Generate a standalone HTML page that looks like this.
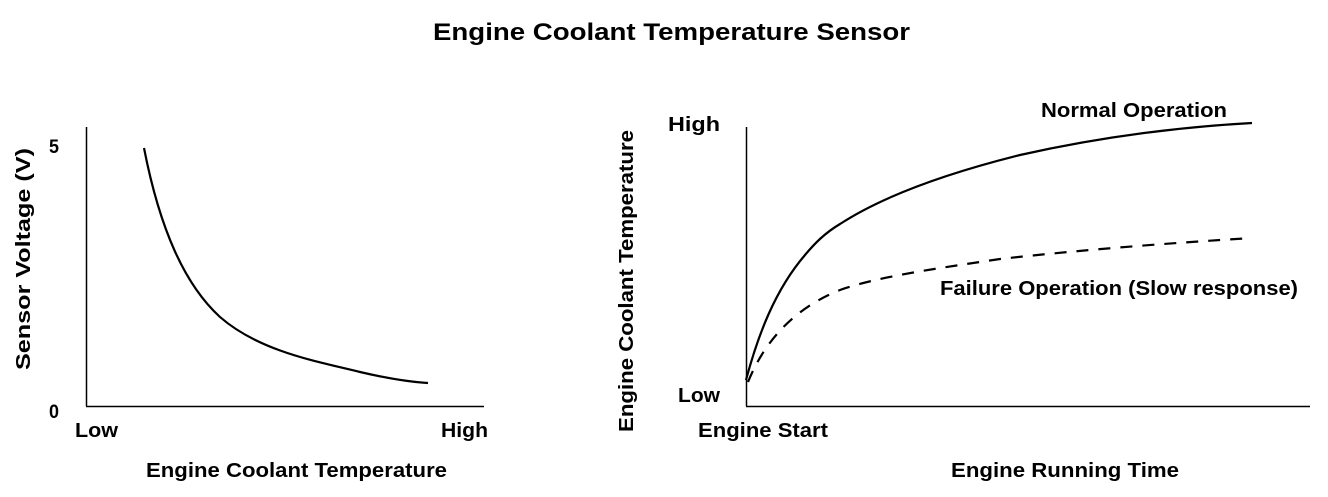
<!DOCTYPE html>
<html><head><meta charset="utf-8"><style>
html,body{margin:0;padding:0;background:#fff;}
</style></head><body>
<svg width="1328" height="492" viewBox="0 0 1328 492" xmlns="http://www.w3.org/2000/svg" font-family="Liberation Sans, Arial, sans-serif" font-weight="bold" fill="#000">
<text x="433" y="40" font-size="24" textLength="477" lengthAdjust="spacingAndGlyphs">Engine Coolant Temperature Sensor</text>
<!-- left chart -->
<line x1="86.5" y1="127" x2="86.5" y2="406" stroke="#000" stroke-width="1.5"/>
<line x1="86" y1="406.5" x2="484" y2="406.5" stroke="#000" stroke-width="1.5"/>
<path d="M144,148 C160,230 185,285 220,317 C260,352 320,362 360,372 C390,379 410,382 428,383" fill="none" stroke="#000" stroke-width="2.2"/>
<text x="49" y="153" font-size="19" textLength="10" lengthAdjust="spacingAndGlyphs">5</text>
<text x="49" y="418" font-size="19" textLength="10" lengthAdjust="spacingAndGlyphs">0</text>
<text x="75" y="437" font-size="20" textLength="43" lengthAdjust="spacingAndGlyphs">Low</text>
<text x="441" y="437" font-size="20" textLength="47" lengthAdjust="spacingAndGlyphs">High</text>
<text x="146" y="477" font-size="20" textLength="301" lengthAdjust="spacingAndGlyphs">Engine Coolant Temperature</text>
<text transform="translate(30,370) rotate(-90)" font-size="20" textLength="222" lengthAdjust="spacingAndGlyphs">Sensor Voltage (V)</text>
<!-- right chart -->
<line x1="746.5" y1="127" x2="746.5" y2="406" stroke="#000" stroke-width="1.5"/>
<line x1="746" y1="406.5" x2="1310" y2="406.5" stroke="#000" stroke-width="1.5"/>
<path d="M746,380 C758,335 775,290 805,255 C815,243 825,233 840,224 C880,198 940,175 1020,155 C1100,137 1180,127 1252,123" fill="none" stroke="#000" stroke-width="2.2"/>
<path d="M748,382 C765,340 795,308 840,290 C880,276 940,268 1000,259 C1080,250 1170,243 1252,238" fill="none" stroke="#000" stroke-width="2.2" stroke-dasharray="12,10"/>
<text x="668" y="131" font-size="20" textLength="52" lengthAdjust="spacingAndGlyphs">High</text>
<text x="678" y="402" font-size="20" textLength="42" lengthAdjust="spacingAndGlyphs">Low</text>
<text x="698" y="437" font-size="20" textLength="130" lengthAdjust="spacingAndGlyphs">Engine Start</text>
<text x="951" y="477" font-size="20" textLength="228" lengthAdjust="spacingAndGlyphs">Engine Running Time</text>
<text x="1041" y="117" font-size="20" textLength="186" lengthAdjust="spacingAndGlyphs">Normal Operation</text>
<text x="940" y="295" font-size="20" textLength="358" lengthAdjust="spacingAndGlyphs">Failure Operation (Slow response)</text>
<text transform="translate(633,432) rotate(-90)" font-size="20" textLength="302" lengthAdjust="spacingAndGlyphs">Engine Coolant Temperature</text>
</svg>
</body></html>
